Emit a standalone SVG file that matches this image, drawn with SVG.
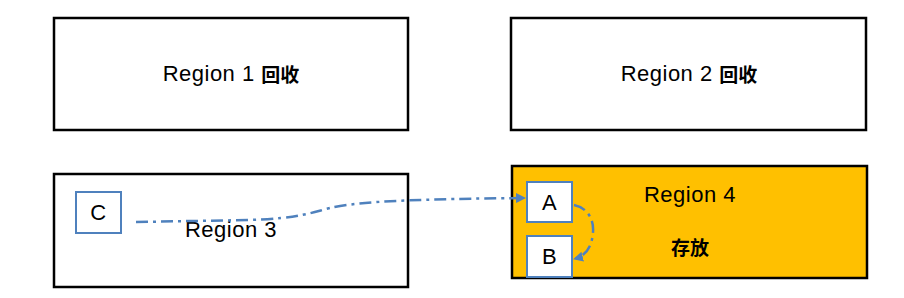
<svg xmlns="http://www.w3.org/2000/svg" width="904" height="298" viewBox="0 0 904 298">
<defs>
<style>
.region{fill:#fff;stroke:#000;stroke-width:2.5}
.box{fill:#fff;stroke:#4F81BD;stroke-width:2}
.t{font-family:"Liberation Sans","Noto Sans CJK SC",sans-serif;font-size:22px;letter-spacing:0.5px;fill:#000;text-anchor:middle;dominant-baseline:central}
.cjk{font-family:"Noto Sans CJK SC",sans-serif;font-weight:bold;font-size:19px;letter-spacing:0}
.conn{fill:none;stroke:#4F81BD;stroke-width:2.5;stroke-dasharray:12 5 3 5}
</style>
<marker id="arr" viewBox="0 0 10 10" refX="9" refY="5" markerWidth="4" markerHeight="4" orient="auto" markerUnits="strokeWidth">
<path d="M0,0 L10,5 L0,10 z" fill="#4F81BD"/>
</marker>
</defs>
<g id="region1"><rect class="region" x="54" y="18" width="354" height="112"/><text class="t" x="231" y="73">Region 1 <tspan class="cjk">回收</tspan></text></g>
<g id="region2"><rect class="region" x="511" y="18" width="355" height="112"/><text class="t" x="689" y="73">Region 2 <tspan class="cjk">回收</tspan></text></g>
<g id="region3"><rect class="region" x="54" y="174" width="354" height="113"/><text class="t" x="231" y="229">Region 3</text></g>
<g id="region4"><rect class="region" x="512" y="166" width="355" height="112" style="fill:#FFC000"/><text class="t" x="690" y="194">Region 4</text><text class="t cjk" x="690" y="246">存放</text></g>
<g id="C"><rect class="box" x="76" y="192" width="45" height="41"/><text class="t" x="98.5" y="212">C</text></g>
<g id="A"><rect class="box" x="527" y="182" width="45" height="40"/><text class="t" x="549.5" y="202">A</text></g>
<g id="B"><rect class="box" x="527" y="236" width="45" height="41"/><text class="t" x="549.5" y="256">B</text></g>
<g id="connectors">
<path class="conn" d="M136 222 L250 220 C300 218 310 213 330 208 C360 201 420 199 525 198" marker-end="url(#arr)"/>
<path class="conn" d="M574 205 C588 208 594 220 593 232 C592 248 585 256 574 259" marker-end="url(#arr)"/>
</g>
</svg>
